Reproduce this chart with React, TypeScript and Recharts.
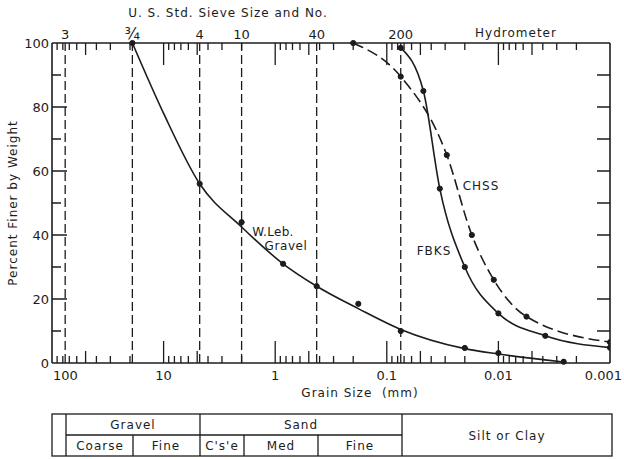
import React from "react";
import {
  ComposedChart,
  Line,
  XAxis,
  YAxis,
  ReferenceLine,
} from "recharts";

// grain size (mm) and percent finer at the plotted points
const gravelSize = [19.05, 4.75, 2.0, 0.85, 0.425, 0.18, 0.075, 0.02, 0.01, 0.0026];
const gravelPct = [100, 56, 44, 31, 24, 18.5, 10, 4.7, 3.1, 0.4];
// the drawn (fitted) gravel curve
const gravelCurveSize = [19.05, 10, 4.75, 2.0, 0.85, 0.425, 0.18, 0.075, 0.02, 0.01, 0.0026];
const gravelCurvePct = [100, 78, 56, 42.5, 31, 24, 17, 10.5, 4.5, 2.8, 0.3];

const fbksSize = [0.075, 0.047, 0.0335, 0.02, 0.01, 0.0038, 0.001];
const fbksPct = [98.5, 85, 54.5, 30, 15.5, 8.5, 4.8];

const chssSize = [0.2, 0.075, 0.029, 0.0173, 0.011, 0.0056, 0.001];
const chssPct = [100, 89.5, 65, 40, 26, 14.5, 6.5];

const sieveSizes = [76.2, 19.05, 4.75, 2.0, 0.425, 0.075];
const sieveLabels = ["3", "¾", "4", "10", "40", "200"];

const decades = [100, 10, 1, 0.1, 0.01, 0.001];
const decadeLabels = ["100", "10", "1", "0.1", "0.01", "0.001"];

const pctTicks = [0, 10, 20, 30, 40, 50, 60, 70, 80, 90, 100];
const pctLabels = [0, 20, 40, 60, 80, 100];

const ink = "#1c1c1c";
const font = "'DejaVu Sans', sans-serif";

const toRows = (xs: number[], ys: number[]) => xs.map((d, i) => ({ d, p: ys[i] }));
const gravel = toRows(gravelSize, gravelPct);
const gravelCurve = toRows(gravelCurveSize, gravelCurvePct);
const fbks = toRows(fbksSize, fbksPct);
const chss = toRows(chssSize, chssPct);

// log minor ticks for the grain size axes (2..9 in each decade)
const minorLogTicks: number[] = [];
for (let k = -3; k <= 1; k++) {
  for (let m = 2; m <= 9; m++) minorLogTicks.push(Number((m * Math.pow(10, k)).toPrecision(3)));
}
const decadeTicks = [10, 1, 0.1, 0.01];

// tick length in pixels
const tickLen = (v: number) => {
  const m = Math.round(v / Math.pow(10, Math.floor(Math.log10(v) + 1e-9)));
  return m === 5 ? 12 : 7;
};

function BottomLabel({ x, y, payload }: any) {
  const v = payload.value;
  const i = decades.indexOf(v);
  if (i < 0) return <g />;
  const anchor = v === 100 ? "start" : v === 0.001 ? "end" : "middle";
  return (
    <text
      x={v === 100 ? x + 1 : v === 0.001 ? x + 12 : x}
      y={y + 17}
      textAnchor={anchor}
      fontSize={13}
      fontFamily={font}
      fill={ink}
    >
      {decadeLabels[i]}
    </text>
  );
}

function LeftLabel({ x, y, payload }: any) {
  const v = payload.value;
  if (!pctLabels.includes(v)) return <g />;
  return (
    <text x={x - 3} y={y + 5} textAnchor="end" fontSize={13} fontFamily={font} fill={ink}>
      {v}
    </text>
  );
}

// short inward tick pieces cut from a vertical reference line (bottom and top)
const vTick = (len: number) => (p: any) => {
  const x = p.x1;
  const top = Math.min(p.y1, p.y2);
  const bot = Math.max(p.y1, p.y2);
  return (
    <path d={`M${x},${bot}V${bot - len}M${x},${top}V${top + len}`} stroke={ink} strokeWidth={1.3} fill="none" />
  );
};

// short inward tick pieces cut from a horizontal reference line (left and right)
const hTick = (left: number, right: number) => (p: any) => {
  const y = p.y1;
  const l = Math.min(p.x1, p.x2);
  const r = Math.max(p.x1, p.x2);
  return (
    <path d={`M${l},${y}H${l + left}M${r},${y}H${r - right}`} stroke={ink} strokeWidth={1.3} fill="none" />
  );
};

const label = (text: string, left: number, top: number, size = 12, extra: React.CSSProperties = {}) => (
  <div
    style={{
      position: "absolute",
      left,
      top,
      transform: "translate(-50%, -50%)",
      fontFamily: font,
      fontSize: size,
      letterSpacing: 1,
      color: ink,
      whiteSpace: "nowrap",
      ...extra,
    }}
  >
    {text}
  </div>
);

const dot = { r: 2.6, fill: ink, stroke: ink, strokeWidth: 1, strokeDasharray: "0" };

export default function App() {
  return (
    <div style={{ position: "absolute", left: 0, top: 0, width: 624, height: 459, background: "#fff", overflow: "hidden" }}>
      <ComposedChart width={624} height={459} margin={{ top: 42, right: 13, bottom: 76, left: 12 }}>
        <XAxis
          xAxisId="b"
          type="number"
          dataKey="d"
          scale="log"
          domain={[0.001, 100]}
          reversed
          allowDataOverflow
          ticks={decades}
          interval={0}
          tick={(p: any) => <BottomLabel {...p} />}
          tickLine={false}
          tickSize={0}
          tickMargin={0}
          height={20}
          stroke={ink}
          strokeWidth={1.6}
        />
        <XAxis
          xAxisId="t"
          orientation="top"
          type="number"
          dataKey="d"
          scale="log"
          domain={[0.001, 100]}
          reversed
          allowDataOverflow
          ticks={[]}
          tick={false}
          tickLine={false}
          height={1}
          stroke={ink}
          strokeWidth={1.6}
        />
        <YAxis
          yAxisId="l"
          type="number"
          domain={[0, 100]}
          ticks={pctTicks}
          interval={0}
          tick={(p: any) => <LeftLabel {...p} />}
          tickLine={false}
          tickSize={0}
          tickMargin={0}
          width={40}
          stroke={ink}
          strokeWidth={1.6}
        />
        <YAxis
          yAxisId="r"
          orientation="right"
          type="number"
          domain={[0, 100]}
          tick={false}
          tickLine={false}
          width={1}
          stroke={ink}
          strokeWidth={1.6}
        />

        {minorLogTicks.map((v) => (
          <ReferenceLine key={"m" + v} x={v} xAxisId="b" yAxisId="l" shape={vTick(tickLen(v))} />
        ))}
        {decadeTicks.map((v) => (
          <ReferenceLine key={"d" + v} x={v} xAxisId="b" yAxisId="l" shape={vTick(22)} />
        ))}
        {pctTicks.slice(1, -1).map((v) => (
          <ReferenceLine
            key={"p" + v}
            y={v}
            xAxisId="b"
            yAxisId="l"
            shape={hTick(pctLabels.includes(v) ? 15 : 9, 13)}
          />
        ))}

        {sieveSizes.map((s, i) => (
          <ReferenceLine
            key={s}
            x={s}
            xAxisId="b"
            yAxisId="l"
            stroke={ink}
            strokeWidth={1.3}
            strokeDasharray="9 4"
            label={{
              value: sieveLabels[i],
              position: "top",
              offset: 4,
              fill: ink,
              fontSize: i === 1 ? 16 : 13,
              fontFamily: font,
            }}
          />
        ))}

        <Line
          xAxisId="b"
          yAxisId="l"
          data={gravelCurve}
          dataKey="p"
          type="monotone"
          stroke={ink}
          strokeWidth={1.6}
          dot={false}
          isAnimationActive={false}
        />
        <Line
          xAxisId="b"
          yAxisId="l"
          data={gravel}
          dataKey="p"
          stroke="none"
          dot={dot}
          isAnimationActive={false}
        />
        <Line
          xAxisId="b"
          yAxisId="l"
          data={fbks}
          dataKey="p"
          type="monotone"
          stroke={ink}
          strokeWidth={1.6}
          dot={dot}
          isAnimationActive={false}
        />
        <Line
          xAxisId="b"
          yAxisId="l"
          data={chss}
          dataKey="p"
          type="monotone"
          stroke={ink}
          strokeWidth={1.6}
          strokeDasharray="11 5"
          dot={dot}
          isAnimationActive={false}
        />
      </ComposedChart>

      {label("U. S. Std. Sieve Size and No.", 228, 13)}
      {label("Hydrometer", 516, 33)}
      {label("Grain Size  (mm)", 360, 393, 12, { whiteSpace: "pre" })}
      {label("Percent Finer by Weight", 13, 203, 12, { transform: "translate(-50%, -50%) rotate(-90deg)" })}
      {label("W.Leb.", 273, 232, 12, { letterSpacing: 0.3 })}
      {label("Gravel", 286, 246, 12, { letterSpacing: 0.6 })}
      {label("CHSS", 481, 186, 12)}
      {label("FBKS", 434, 251, 12)}

      <svg width={624} height={459} style={{ position: "absolute", left: 0, top: 0 }}>
        <g stroke={ink} strokeWidth={1.3} fill="none">
          <rect x={52} y={414} width={560} height={42} />
          <line x1={66} x2={66} y1={414} y2={456} />
          <line x1={66} x2={402} y1={435} y2={435} />
          <line x1={200} x2={200} y1={414} y2={456} />
          <line x1={402} x2={402} y1={414} y2={456} />
          <line x1={133} x2={133} y1={435} y2={456} />
          <line x1={244} x2={244} y1={435} y2={456} />
          <line x1={318} x2={318} y1={435} y2={456} />
        </g>
        <g fontFamily={font} fontSize={12} fill={ink} textAnchor="middle" letterSpacing={1}>
          <text x={133} y={429}>Gravel</text>
          <text x={301} y={429}>Sand</text>
          <text x={507} y={440}>Silt or Clay</text>
          <text x={100} y={450}>Coarse</text>
          <text x={166} y={450}>Fine</text>
          <text x={222} y={450}>C's'e</text>
          <text x={281} y={450}>Med</text>
          <text x={360} y={450}>Fine</text>
        </g>
      </svg>
    </div>
  );
}
